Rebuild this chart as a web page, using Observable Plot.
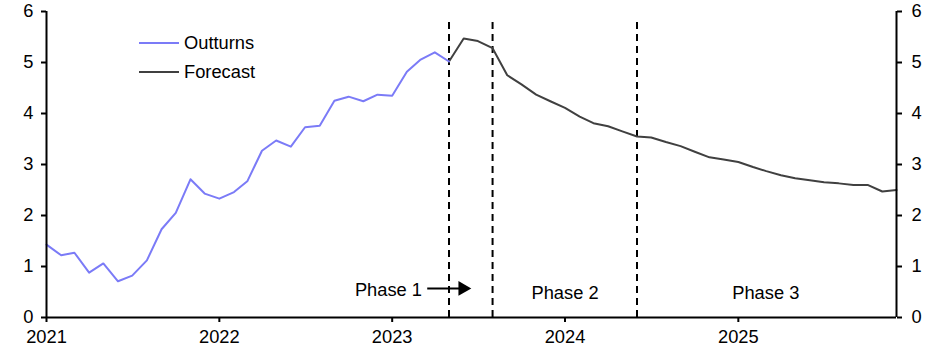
<!DOCTYPE html>
<html>
<head>
<meta charset="utf-8">
<script src="https://cdn.jsdelivr.net/npm/d3@7"></script>
<script src="https://cdn.jsdelivr.net/npm/@observablehq/plot@0.6"></script>
<style>
  html, body { margin: 0; padding: 0; background: #fff; }
</style>
</head>
<body>
<div id="chart"></div>
<script>
// ---- data ----
const outturnStart = "2021-01";
const outturnValues = [1.43,1.22,1.27,0.88,1.06,0.71,0.82,1.12,1.73,2.05,2.71,2.43,
                       2.33,2.46,2.67,3.27,3.47,3.35,3.73,3.76,4.25,4.33,4.24,4.37,
                       4.35,4.82,5.05,5.20,5.02];
const forecastStart = "2023-05";
const forecastValues = [5.02,5.47,5.42,5.28,4.75,4.57,4.37,4.24,
                        4.11,3.94,3.81,3.75,3.65,3.55,3.53,3.44,3.36,3.25,3.14,3.10,
                        3.05,2.95,2.87,2.79,2.73,2.69,2.65,2.63,2.60,2.60,2.47,2.50];
const seriesNames = ["Outturns", "Forecast"];
const seriesColors = ["#7b7bf7", "#404040"];
const phaseBoundaries = ["2023-05", "2023-08", "2024-06"];
const phaseLabels = ["Phase 1", "Phase 2", "Phase 3"];
const phaseLabelDates = ["2023-03-05", "2024-01-01", "2025-02-28"];
const phaseLabelValues = [0.53, 0.47, 0.47];
const arrowFrom = "2023-03-16", arrowTo = "2023-05-30", arrowValue = 0.57;
const yTicks = [0,1,2,3,4,5,6];
const xDomain = ["2021-01", "2025-12"];

// ---- build tables ----
const parse = s => new Date(s.length === 7 ? s + "-01T00:00Z" : s + "T00:00Z");
const monthSeq = (start, vals) => vals.map((v, i) => ({date: d3.utcMonth.offset(parse(start), i), value: v}));
const outturns = monthSeq(outturnStart, outturnValues);
const forecast = monthSeq(forecastStart, forecastValues);
const boundaries = phaseBoundaries.map(parse);
const phases = phaseLabels.map((t, i) => ({text: t, date: parse(phaseLabelDates[i]), value: phaseLabelValues[i]}));
const domain = xDomain.map(parse);

const font = "'Liberation Sans', Arial, sans-serif";

const legendMark = (index, scales, values, dims) => {
  const g = d3.create("svg:g");
  seriesNames.forEach((name, i) => {
    const y = dims.marginTop + 32 + i * 29;
    const x0 = dims.marginLeft + 93;
    g.append("line").attr("x1", x0).attr("x2", x0 + 40).attr("y1", y).attr("y2", y)
      .attr("stroke", seriesColors[i]).attr("stroke-width", 2);
    g.append("text").attr("x", x0 + 45).attr("y", y).attr("dy", "0.35em")
      .attr("text-anchor", "start")
      .attr("font-size", 18.3).attr("font-family", font).attr("fill", "#000").text(name);
  });
  return g.node();
};

const chart = Plot.plot({
  width: 943,
  height: 351,
  marginLeft: 46,
  marginRight: 47,
  marginTop: 11,
  marginBottom: 34,
  style: {fontFamily: font, fontSize: "18px", color: "#000", background: "#fff"},
  x: {type: "utc", domain},
  y: {domain: [0, 6]},
  marks: [
    Plot.axisY({anchor: "left", ticks: yTicks, tickFormat: "d", tickSize: 5, tickPadding: 8, label: null, strokeWidth: 2, fontSize: 18.3}),
    Plot.axisY({anchor: "right", ticks: yTicks, tickFormat: "d", tickSize: 5, tickPadding: 10, label: null, strokeWidth: 2, fontSize: 18.3}),
    Plot.axisX({ticks: d3.utcYear.every(1), tickFormat: "%Y", tickSize: 5, tickPadding: 7, label: null, strokeWidth: 2, fontSize: 18.3}),
    Plot.ruleX(boundaries, {y1: 0, y2: 5.86, stroke: "#000", strokeWidth: 2, strokeDasharray: "7,5"}),
    Plot.line(forecast, {x: "date", y: "value", stroke: seriesColors[1], strokeWidth: 2}),
    Plot.line(outturns, {x: "date", y: "value", stroke: seriesColors[0], strokeWidth: 2}),
    Plot.ruleX([domain[0], domain[1]], {stroke: "#000", strokeWidth: 2}),
    Plot.ruleY([0], {stroke: "#000", strokeWidth: 2}),
    Plot.text(phases.slice(0, 1), {x: "date", y: "value", text: "text", textAnchor: "end", fontSize: 18.3, fill: "#000"}),
    Plot.text(phases.slice(1), {x: "date", y: "value", text: "text", textAnchor: "middle", fontSize: 18.3, fill: "#000"}),
    Plot.link([{x1: parse(arrowFrom), x2: parse(arrowTo), y: arrowValue}], {x1: "x1", x2: "x2", y1: "y", y2: "y", stroke: "#000", strokeWidth: 2}),
    Plot.dot([{x: parse(arrowTo), y: arrowValue}], {x: "x", y: "y", symbol: "triangle", rotate: 90, r: 5.5, fill: "#000", stroke: "none"}),
    legendMark
  ]
});
document.getElementById("chart").appendChild(chart);
</script>
</body>
</html>
